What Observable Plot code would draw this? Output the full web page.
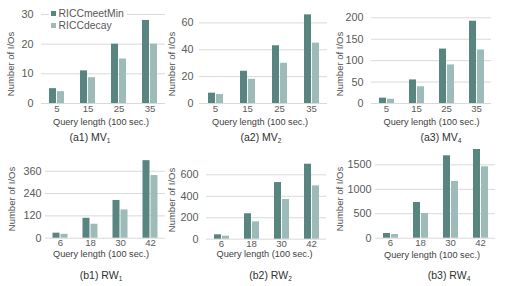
<!DOCTYPE html>
<html><head><meta charset="utf-8">
<script src="https://cdn.jsdelivr.net/npm/d3@7"></script>
<script src="https://cdn.jsdelivr.net/npm/@observablehq/plot@0.6"></script>
<style>
body{margin:0;background:#fff;}
#root{position:relative;width:507px;height:286px;overflow:hidden;font-family:"Liberation Sans",Arial,sans-serif;color:#404040;background:#fff;}
.p{position:absolute;}
.t{position:absolute;white-space:nowrap;transform:translate(-50%,-50%);line-height:1;}
.yt{transform:translate(-50%,-50%) rotate(-90deg);font-size:9.5px;color:#505050;}
.xt{font-size:9.2px;color:#404040;}
.cap{font-size:10.5px;color:#303030;}
.cap sub{font-size:6.5px;vertical-align:-2px;line-height:0;}
#legend{position:absolute;left:49px;top:8px;background:#fff;padding:0 3px 0 2px;font-size:10.4px;line-height:12px;color:#595959;}
#legend .sw{display:inline-block;width:4.5px;height:4.5px;margin-right:3px;vertical-align:1.5px;}
</style></head><body><div id="root"></div>
<script>
// ---- data ----
const seriesNames = ["RICCmeetMin", "RICCdecay"];
const lengthsMV = [5, 15, 25, 35];
const lengthsRW = [6, 18, 30, 42];

const mv1MeetMin = [5, 11, 20, 28];
const mv1Decay   = [4, 8.7, 15, 20];
const mv2MeetMin = [7.7, 24, 43, 66];
const mv2Decay   = [6.7, 18, 30, 45];
const mv4MeetMin = [12.5, 55, 127, 192];
const mv4Decay   = [10, 39, 90, 125];
const rw1MeetMin = [27, 107, 203, 417];
const rw1Decay   = [21, 75, 152, 337];
const rw2MeetMin = [41, 237, 528, 699];
const rw2Decay   = [28, 162, 370, 497];
const rw4MeetMin = [96, 730, 1685, 1814];
const rw4Decay   = [76, 505, 1160, 1460];

const ticksMV1 = [0, 10, 20, 30];
const ticksMV2 = [0, 20, 40, 60];
const ticksMV4 = [0, 50, 100, 150, 200];
const ticksRW1 = [0, 120, 240, 360];
const ticksRW2 = [0, 200, 400, 600];
const ticksRW4 = [0, 500, 1000, 1500];

const yTitle = "Number of I/Os";
const xTitle = "Query length (100 sec.)";

// ---- style / layout ----
const dark = "#598581";
const light = "#9dbbb8";
const gridColor = "#d9d9d9";

const panels = [
  {lengths: lengthsMV, meet: mv1MeetMin, decay: mv1Decay, ticks: ticksMV1, yMax: 30,
   box: [0, 0, 170, 118], m: [14, 5, 15, 41], pad: 8, xpad: 2, bw: 7.0,
   yt: [10.5, 64], xt: [101, 122.5], cap: ["(a1) MV", "1"], cp: [90, 136.5]},
  {lengths: lengthsMV, meet: mv2MeetMin, decay: mv2Decay, ticks: ticksMV2, yMax: 70,
   box: [170, 0, 165, 118], m: [9, 6.5, 15, 28], pad: 6, xpad: 2, bw: 7.5,
   yt: [172, 64], xt: [260, 122.5], cap: ["(a2) MV", "2"], cp: [261, 136.5]},
  {lengths: lengthsMV, meet: mv4MeetMin, decay: mv4Decay, ticks: ticksMV4, yMax: 200,
   box: [340, 0, 167, 118], m: [17.3, 16, 15, 30], pad: 8, xpad: 2, bw: 7.2,
   yt: [340, 64], xt: [431.5, 122.5], cap: ["(a3) MV", "4"], cp: [441, 137]},
  {lengths: lengthsRW, meet: rw1MeetMin, decay: rw1Decay, ticks: ticksRW1, yMax: 420,
   box: [0, 140, 170, 115], m: [19.6, 4, 17.3, 43.5], pad: 4, xpad: 0.5, bw: 7.3,
   yt: [11.5, 199], xt: [101, 255], cap: ["(b1) RW", "1"], cp: [101, 275]},
  {lengths: lengthsRW, meet: rw2MeetMin, decay: rw2Decay, ticks: ticksRW2, yMax: 700,
   box: [170, 140, 165, 115], m: [23.6, 9, 16.3, 35], pad: 8, xpad: 0.5, bw: 7.3,
   yt: [172, 200], xt: [264.5, 255], cap: ["(b2) RW", "2"], cp: [270.5, 275]},
  {lengths: lengthsRW, meet: rw4MeetMin, decay: rw4Decay, ticks: ticksRW4, yMax: 1820,
   box: [340, 140, 167, 115], m: [8.7, 12, 17.3, 34], pad: 4, xpad: 0.5, bw: 7.3,
   yt: [340, 199], xt: [432, 255.5], cap: ["(b3) RW", "4"], cp: [449, 275]}
];

const root = document.getElementById("root");
const gap = 1.5;

function addText(cls, x, y, html) {
  const d = document.createElement("div");
  d.className = "t " + cls;
  d.style.left = x + "px";
  d.style.top = y + "px";
  d.innerHTML = html;
  root.appendChild(d);
}

panels.forEach(p => {
  const rows = [];
  p.lengths.forEach((len, i) => {
    rows.push({len, series: seriesNames[0], value: p.meet[i]});
    rows.push({len, series: seriesNames[1], value: p.decay[i]});
  });
  const [L, T, W, H] = p.box;
  const [mt, mr, mb, ml] = p.m;
  const s = (W - ml - mr) / p.lengths.length;
  const stepX = p.bw + gap;
  const pi = gap / stepX;
  const po = (s / stepX - 2 + pi) / 2;
  const chart = Plot.plot({
    width: W, height: H,
    marginTop: mt, marginRight: mr, marginBottom: mb, marginLeft: ml,
    style: {fontFamily: '"Liberation Sans", Arial, sans-serif', fontSize: "9.6px", color: "#595959", background: "transparent", overflow: "visible"},
    facet: {data: rows, x: "len"},
    fx: {domain: p.lengths, paddingInner: 0, paddingOuter: 0, axis: "bottom", tickSize: 0, tickPadding: p.xpad, label: null},
    x: {domain: seriesNames, paddingInner: pi, paddingOuter: po, axis: null},
    y: {domain: [0, p.yMax], ticks: p.ticks, tickFormat: d => String(d), tickSize: 0, tickPadding: p.pad, label: null},
    color: {domain: seriesNames, range: [dark, light]},
    marks: [
      Plot.ruleY(p.ticks, {stroke: gridColor, strokeWidth: 1}),
      Plot.barY(rows, {x: "series", y: "value", fill: "series"})
    ]
  });
  // slightly larger y tick labels, as in the reference
  d3.select(chart).selectAll('[aria-label^="y-axis"] text').style("font-size", "10.8px");
  chart.classList.add("p");
  chart.style.left = L + "px";
  chart.style.top = T + "px";
  root.appendChild(chart);
  addText("yt", p.yt[0], p.yt[1], yTitle);
  addText("xt", p.xt[0], p.xt[1], xTitle);
  addText("cap", p.cp[0], p.cp[1], p.cap[0] + "<sub>" + p.cap[1] + "</sub>");
});

// legend
const lg = document.createElement("div");
lg.id = "legend";
lg.innerHTML = seriesNames.map((n, i) =>
  `<div><span class="sw" style="background:${i ? light : dark}"></span>${n}</div>`).join("");
root.appendChild(lg);
</script>
</body></html>
